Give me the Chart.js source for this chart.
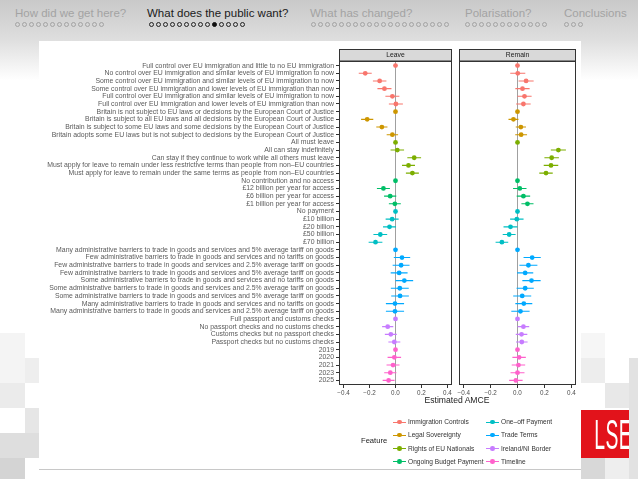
<!DOCTYPE html>
<html>
<head>
<meta charset="utf-8">
<script src="https://cdn.jsdelivr.net/npm/chart.js@4.4.1/dist/chart.umd.min.js"></script>
<style>
  body {
    margin: 0;
    width: 638px;
    height: 479px;
    overflow: hidden;
    position: relative;
    font-family: "Liberation Sans", Arial, sans-serif;
    background: linear-gradient(#c9c9c9 0px, #dddddd 38px, #efefef 60px, #ffffff 80px);
  }
  .nav { position: absolute; top: 6px; font-size: 11.5px; line-height: 14px; color: #a3a3a3; white-space: nowrap; }
  .nav.on { color: #1a1a1a; }
  .dots { position: absolute; top: 21.5px; height: 6px; white-space: nowrap; font-size: 0; }
  .dots span { display: inline-block; box-sizing: border-box; width: 5.2px; height: 5.2px; border: 0.9px solid #a3a3a3; border-radius: 50%; margin-right: 1.8px; }
  .dots.on span { border-color: #222; }
  .dots.on span.cur { background: #111; border-color: #111; }
  .sq { position: absolute; }
  #box { position: absolute; left: 39px; top: 41px; width: 542px; height: 428px; background: #fff; border-bottom: 1px solid #c8c8c8; }
  canvas { position: absolute; }
  #xtitle { position: absolute; left: 357px; width: 200px; top: 395px; text-align: center; font-size: 8.6px; color: #222; }
  #legtitle { position: absolute; left: 361px; top: 436px; font-size: 7.6px; color: #222; }
  .leg { position: absolute; font-size: 6.6px; color: #333; line-height: 8px; white-space: nowrap; }
  .leg .key { position: absolute; left: -15px; top: 3.5px; width: 13px; height: 1px; }
  .leg .key i { position: absolute; left: 4.3px; top: -2px; width: 4.6px; height: 4.6px; border-radius: 50%; }
  #lse { position: absolute; left: 581px; top: 410px; width: 48px; height: 48px; background: #e2131b; overflow: hidden; }
  #lse span { position: absolute; left: 0; width: 48px; top: 3px; text-align: center; color: #fff; font-size: 43px; line-height: 43px; transform: scaleX(0.45); letter-spacing: 1px; }
</style>
</head>
<body>
<div class="sq" style="left:0;top:333px;width:25px;height:50px;background:#f4f4f4"></div>
<div class="sq" style="left:25px;top:358px;width:14px;height:25px;background:#eeeeee"></div>
<div class="sq" style="left:0;top:383px;width:25px;height:25px;background:#ebebeb"></div>
<div class="sq" style="left:25px;top:408px;width:14px;height:25px;background:#e6e6e6"></div>
<div class="sq" style="left:0;top:433px;width:39px;height:25px;background:#dedede"></div>
<div class="sq" style="left:0;top:458px;width:25px;height:21px;background:#d4d4d4"></div>
<div class="sq" style="left:581px;top:333px;width:24px;height:25px;background:#f6f6f6"></div>
<div class="sq" style="left:581px;top:358px;width:24px;height:25px;background:#ededed"></div>
<div class="sq" style="left:605px;top:383px;width:24px;height:25px;background:#e8e8e8"></div>
<div class="sq" style="left:629px;top:358px;width:9px;height:121px;background:#e2e2e2"></div>
<div class="sq" style="left:581px;top:458px;width:24px;height:21px;background:#d8d8d8"></div>
<div class="sq" style="left:605px;top:458px;width:24px;height:21px;background:#eeeeee"></div>

<div id="box"></div>

<div class="nav" style="left:15px">How did we get here?</div>
<div class="nav on" style="left:147px">What does the public want?</div>
<div class="nav" style="left:310px">What has changed?</div>
<div class="nav" style="left:465px">Polarisation?</div>
<div class="nav" style="left:564px">Conclusions</div>
<div class="dots" id="d0" style="left:15px"></div>
<div class="dots on" id="d1" style="left:149px"></div>
<div class="dots" id="d2" style="left:311px"></div>
<div class="dots" id="d3" style="left:465px"></div>
<div class="dots" id="d4" style="left:564px"></div>

<canvas id="leave" width="416" height="353" style="left:40px;top:45px"></canvas>
<canvas id="remain" width="140" height="353" style="left:448px;top:45px"></canvas>

<div id="xtitle">Estimated AMCE</div>
<div id="legtitle">Feature</div>
<div id="legend"></div>

<div id="lse"><span>LSE</span></div>

<script>
const levels = [
  "Full control over EU immigration and little to no EU immigration",
  "No control over EU immigration and similar levels of EU immigration to now",
  "Some control over EU immigration and similar levels of EU immigration to now",
  "Some control over EU immigration and lower levels of EU immigration than now",
  "Full control over EU immigration and similar levels of EU immigration to now",
  "Full control over EU immigration and lower levels of EU immigration than now",
  "Britain is not subject to EU laws or decisions by the European Court of Justice",
  "Britain is subject to all EU laws and all decisions by the European Court of Justice",
  "Britain is subject to some EU laws and some decisions by the European Court of Justice",
  "Britain adopts some EU laws but is not subject to decisions by the European Court of Justice",
  "All must leave",
  "All can stay indefinitely",
  "Can stay if they continue to work while all others must leave",
  "Must apply for leave to remain under less restrictive terms than people from non–EU countries",
  "Must apply for leave to remain under the same terms as people from non–EU countries",
  "No contribution and no access",
  "£12 billion per year for access",
  "£6 billion per year for access",
  "£1 billion per year for access",
  "No payment",
  "£10 billion",
  "£20 billion",
  "£50 billion",
  "£70 billion",
  "Many administrative barriers to trade in goods and services and 5% average tariff on goods",
  "Few administrative barriers to trade in goods and services and no tariffs on goods",
  "Few administrative barriers to trade in goods and services and 2.5% average tariff on goods",
  "Few administrative barriers to trade in goods and services and 5% average tariff on goods",
  "Some administrative barriers to trade in goods and services and no tariffs on goods",
  "Some administrative barriers to trade in goods and services and 2.5% average tariff on goods",
  "Some administrative barriers to trade in goods and services and 5% average tariff on goods",
  "Many administrative barriers to trade in goods and services and no tariffs on goods",
  "Many administrative barriers to trade in goods and services and 2.5% average tariff on goods",
  "Full passport and customs checks",
  "No passport checks and no customs checks",
  "Customs checks but no passport checks",
  "Passport checks but no customs checks",
  "2019",
  "2020",
  "2021",
  "2023",
  "2025"
];

const features = [
  "Immigration Controls", "Legal Sovereignty", "Rights of EU Nationals", "Ongoing Budget Payment",
  "One–off Payment", "Trade Terms", "Ireland/NI Border", "Timeline"
];
const featureColors = ["#F8766D", "#CD9600", "#7CAE00", "#00BE67", "#00BFC4", "#00A9FF", "#C77CFF", "#FF61CC"];
const featureSizes = [6, 4, 5, 4, 5, 9, 4, 5];

const leaveEst = [
  0, -0.233, -0.122, -0.085, -0.024, 0.003,
  0, -0.218, -0.105, -0.024,
  0, 0.014, 0.144, 0.1, 0.13,
  0, -0.093, -0.041, -0.005,
  0, -0.026, -0.046, -0.117, -0.154,
  0, 0.05, 0.043, 0.028, 0.068, 0.033, 0.035, -0.004, -0.004,
  0, -0.06, -0.036, -0.009,
  0, -0.009, -0.019, -0.04, -0.053
];
const leaveErr = [
  0, 0.05, 0.052, 0.054, 0.054, 0.054,
  0, 0.047, 0.043, 0.044,
  0, 0.052, 0.053, 0.05, 0.05,
  0, 0.05, 0.047, 0.046,
  0, 0.05, 0.05, 0.053, 0.053,
  0, 0.063, 0.065, 0.065, 0.068, 0.069, 0.068, 0.07, 0.07,
  0, 0.043, 0.046, 0.046,
  0, 0.052, 0.05, 0.047, 0.046
];
const remainEst = [
  0, 0.002, 0.064, 0.037, 0.052, 0.044,
  0, -0.03, 0.025, 0.027,
  0, 0.304, 0.254, 0.249, 0.212,
  0, 0.017, 0.044, 0.074,
  0, -0.005, -0.052, -0.062, -0.116,
  0, 0.109, 0.081, 0.057, 0.104, 0.057, 0.035, 0.047, 0.022,
  0, 0.044, 0.03, 0.032,
  0, 0.012, 0.007, 0.0, -0.012
];
const remainErr = [
  0, 0.056, 0.056, 0.053, 0.053, 0.054,
  0, 0.037, 0.038, 0.044,
  0, 0.056, 0.054, 0.054, 0.05,
  0, 0.05, 0.05, 0.045,
  0, 0.05, 0.052, 0.048, 0.047,
  0, 0.064, 0.067, 0.06, 0.068, 0.064, 0.067, 0.063, 0.068,
  0, 0.043, 0.043, 0.043,
  0, 0.05, 0.05, 0.052, 0.05
];

const xTicks = [-0.4, -0.2, 0, 0.2, 0.4];

// nav bullets
const navCounts = [13, 14, 20, 12, 3];
navCounts.forEach((n, g) => {
  const el = document.getElementById("d" + g);
  for (let i = 0; i < n; i++) {
    const s = document.createElement("span");
    if (g === 1 && i === 9) s.className = "cur";
    el.appendChild(s);
  }
});

// legend
const legend = document.getElementById("legend");
features.forEach((f, k) => {
  const col = Math.floor(k / 4), row = k % 4;
  const d = document.createElement("div");
  d.className = "leg";
  d.style.left = (col ? 501 : 408) + "px";
  d.style.top = (418 + row * 13.3) + "px";
  d.innerHTML = `<span class="key" style="background:${featureColors[k]}"><i style="background:${featureColors[k]}"></i></span>${f}`;
  legend.appendChild(d);
});

function buildDatasets(est, err) {
  const sets = [];
  let row = 0;
  features.forEach((f, k) => {
    const pts = [];
    const bars = [];
    for (let i = 0; i < featureSizes[k]; i++, row++) {
      pts.push({ x: est[row], y: row + 1 });
      if (err[row] > 0) {
        bars.push({ x: est[row] - err[row], y: row + 1 });
        bars.push({ x: est[row] + err[row], y: row + 1 });
        bars.push({ x: null, y: null });
      }
    }
    sets.push({
      label: f + " CI",
      data: bars,
      showLine: true,
      spanGaps: false,
      borderColor: featureColors[k],
      borderWidth: 1.1,
      pointRadius: 0,
    });
    sets.push({
      label: f,
      data: pts,
      pointRadius: 2.4,
      pointBackgroundColor: featureColors[k],
      pointBorderWidth: 0,
    });
  });
  return sets;
}

const panelFrame = {
  id: "panelFrame",
  afterDraw(chart, args, opts) {
    const { ctx, chartArea: a } = chart;
    ctx.save();
    ctx.strokeStyle = "#333";
    ctx.lineWidth = 1;
    ctx.fillStyle = "#d9d9d9";
    ctx.fillRect(a.left, a.top - 12, a.right - a.left, 12);
    ctx.strokeRect(Math.round(a.left) + 0.5, a.top - 11.5, Math.round(a.right - a.left) - 1, 11.5);
    ctx.strokeRect(Math.round(a.left) + 0.5, Math.round(a.top) + 0.5, Math.round(a.right - a.left) - 1, Math.round(a.bottom - a.top) - 1);
    ctx.fillStyle = "#1a1a1a";
    ctx.font = "6.8px 'Liberation Sans', Arial, sans-serif";
    ctx.textAlign = "center";
    ctx.textBaseline = "middle";
    ctx.fillText(opts.title, (a.left + a.right) / 2, a.top - 5.5);
    ctx.restore();
  },
};

function makeChart(id, est, err, title, showLabels, padding) {
  return new Chart(document.getElementById(id), {
    type: "scatter",
    data: { datasets: buildDatasets(est, err) },
    options: {
      responsive: false,
      animation: false,
      layout: { padding: padding },
      plugins: {
        legend: { display: false },
        tooltip: { enabled: false },
        panelFrame: { title: title },
      },
      scales: {
        x: {
          type: "linear",
          min: -0.435,
          max: 0.435,
          afterBuildTicks: (s) => { s.ticks = xTicks.map((v) => ({ value: v })); },
          afterFit: (s) => { s.height = 13; },
          ticks: {
            callback: (v) => (v < 0 ? "−" : "") + Math.abs(v).toFixed(1),
            font: { size: 6.3, family: "'Liberation Sans', Arial, sans-serif" },
            color: "#4d4d4d",
            padding: 1,
            maxRotation: 0,
            autoSkip: false,
          },
          grid: {
            color: (c) => (c.tick && c.tick.value === 0 ? "#a0a0a0" : "rgba(0,0,0,0)"),
            lineWidth: 1,
            tickLength: 3,
            tickColor: "#333",
          },
          border: { display: false },
        },
        y: {
          type: "linear",
          reverse: true,
          min: 0.4,
          max: 42.6,
          display: showLabels,
          afterBuildTicks: (s) => { s.ticks = levels.map((_, i) => ({ value: i + 1 })); },
          afterFit: (s) => { if (showLabels) s.width = 299; },
          ticks: {
            autoSkip: false,
            callback: (v) => levels[v - 1],
            font: { size: 6.9, family: "'Liberation Sans', Arial, sans-serif" },
            color: "#5a5a5a",
            padding: 2,
          },
          grid: { drawOnChartArea: false, tickLength: 3, tickColor: "#333" },
          border: { display: false },
        },
      },
    },
    plugins: [panelFrame],
  });
}

makeChart("leave", leaveEst, leaveErr, "Leave", true, { top: 16, right: 1, left: 0, bottom: 0 });
makeChart("remain", remainEst, remainErr, "Remain", false, { top: 16, right: 12, left: 11, bottom: 0 });
</script>
</body>
</html>
